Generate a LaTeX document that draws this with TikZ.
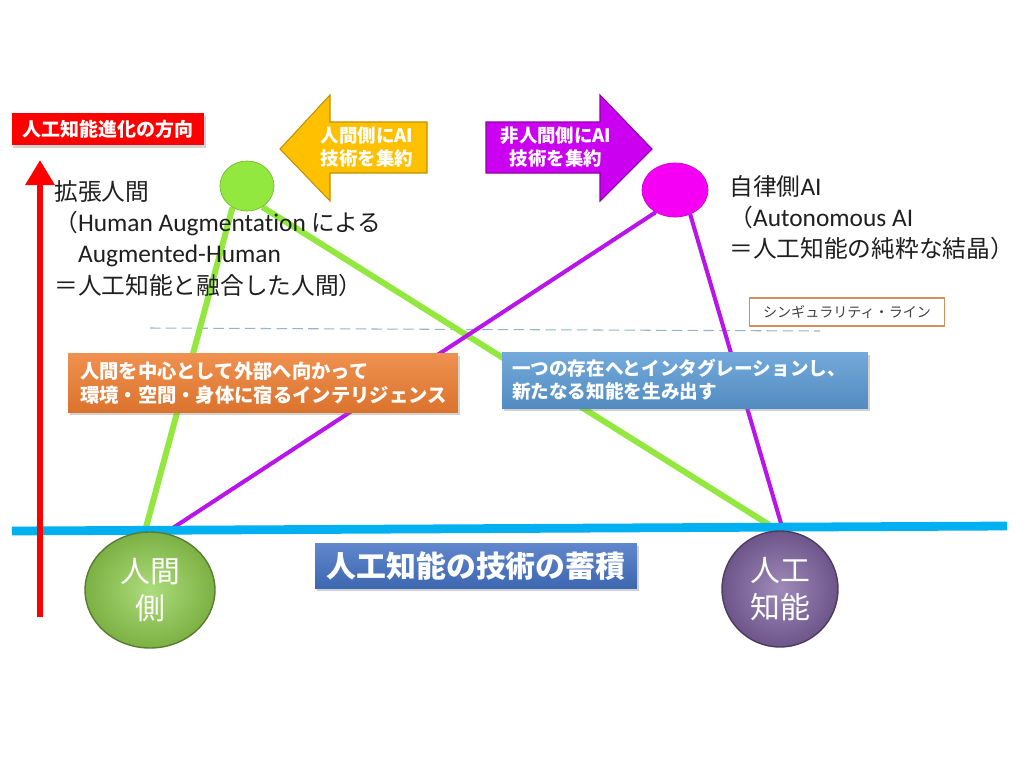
\documentclass[tikz,border=0pt]{standalone}
\usepackage{fontspec}
\setmainfont{Noto Sans CJK JP}
\newfontfamily\latin[Scale=1.07, Ligatures=NoCommon]{Carlito}
\usetikzlibrary{shapes,arrows.meta,shadows,calc,backgrounds}

\definecolor{evored}{RGB}{255,0,0}
\definecolor{limegreen}{RGB}{146,232,62}
\definecolor{magentaball}{RGB}{245,0,245}
\definecolor{violetline}{RGB}{185,20,235}
\definecolor{arrorange}{RGB}{255,192,0}
\definecolor{arrviolet}{RGB}{204,0,240}
\definecolor{boxorange}{RGB}{237,125,49}
\definecolor{boxblue}{RGB}{91,155,213}
\definecolor{linecyan}{RGB}{0,176,240}
\definecolor{accblue}{RGB}{68,114,196}
\definecolor{humangreen}{RGB}{146,208,80}
\definecolor{aipurple}{RGB}{128,100,162}
\definecolor{singbrown}{RGB}{205,145,95}
\definecolor{dashgray}{RGB}{150,180,205}

\begin{document}
\begin{tikzpicture}[x=0.02cm, y=-0.02cm,
        shade/.style={drop shadow={opacity=0.35, shadow xshift=1pt, shadow yshift=-1.5pt}},
        evobox/.style={rectangle, fill=evored, text=white, shade, minimum width=3.86cm, minimum height=0.64cm, font=\bfseries\fontsize{10.8}{13}\selectfont},
        ball/.style={ellipse, inner sep=0pt},
        desc/.style={align=left, inner sep=0pt, text={black!88}, font=\fontsize{13.5}{17.8}\selectfont},
        arrtext/.style={align=center, text=white, font=\bfseries\fontsize{10.5}{13}\selectfont},
        singbox/.style={rectangle, draw=singbrown, line width=0.8pt, fill=white, minimum width=3.9cm, minimum height=0.56cm, text={black!75}, font=\fontsize{8}{10}\selectfont},
        notebox/.style={rectangle, text=white, shade, align=left, font=\bfseries\fontsize{11}{13.6}\selectfont},
        sidenode/.style={ellipse, text=white, align=center, line width=0.8pt, font=\fontsize{17}{21}\selectfont},
        accbox/.style={rectangle, top color=accblue!85!white, bottom color=accblue!90!black, text=white, shade, minimum width=6.44cm, minimum height=0.9cm, font=\bfseries\fontsize{17}{20}\selectfont},
        gline/.style={draw=limegreen, line width=3.4pt},
        pline/.style={draw=violetline, line width=2.3pt},
        cyanline/.style={draw=linecyan, line width=5pt},
        singline/.style={draw=dashgray, line width=0.6pt, dash pattern=on 6pt off 3pt},
        evoline/.style={draw=evored, line width=3.8pt, -{Triangle[width=0.56cm, length=0.5cm]}}]

    \useasboundingbox (0,0) rectangle (1024,768);

    % top row
    \node [evobox] (evo) at (108,129) {人工知能進化の方向};
    \node [ball, fill=limegreen, draw=limegreen!80!black, minimum width=1.08cm, minimum height=1cm] (aug) at (247,186) {};
    \node [ball, fill=magentaball, draw=magentaball!85!black, minimum width=1.32cm, minimum height=1.08cm] (mag) at (675,190) {};

    \filldraw [fill=arrorange, draw=arrorange!75!black, line width=0.6pt] (280,149) -- (330,95) -- (330,122) -- (427,122) -- (427,173) -- (330,173) -- (330,201) -- cycle;
    \filldraw [fill=arrviolet, draw=arrviolet!70!black, line width=0.6pt] (652,149) -- (600,95) -- (600,122) -- (486,122) -- (486,173) -- (600,173) -- (600,201) -- cycle;
    \node [arrtext] (toleft) at (367,147) {人間側にAI\\技術を集約};
    \node [arrtext] (toright) at (556,147) {非人間側にAI\\技術を集約};

    \node [desc, anchor=north west] (augdesc) at (54,180) {拡張人間\\（{\latin Human Augmentation} による\\\hspace*{1em}{\latin Augmented-Human}\\＝人工知能と融合した人間）};
    \node [desc, anchor=north west] (aidesc) at (729,175) {自律側{\latin AI}\\（{\latin Autonomous AI}\\＝人工知能の純粋な結晶）};

    \node [singbox] (sing) at (847,312) {シンギュラリティ・ライン};

    % middle notes
    \node [notebox, top color=boxorange!85!white, bottom color=boxorange!92!black, minimum height=1.18cm, text width=7.32cm, inner xsep=0.24cm] (outward) at (263,383) {人間を中心として外部へ向かって\\環境・空間・身体に宿るインテリジェンス};
    \node [notebox, top color=boxblue!85!white, bottom color=boxblue!90!black, minimum height=1.12cm, text width=6.92cm, inner xsep=0.2cm, font=\bfseries\fontsize{10.6}{13}\selectfont] (merge) at (685,380) {一つの存在へとインタグレーションし、\\新たなる知能を生み出す};

    % bottom row
    \node [sidenode, inner color=humangreen!75!white, outer color=humangreen!85!black, draw=humangreen!60!black, minimum width=2.6cm, minimum height=2.32cm] (human) at (150,590) {人間\\側};
    \node [sidenode, inner color=aipurple!75!white, outer color=aipurple!85!black, draw=aipurple!60!black, minimum width=2.32cm, minimum height=2.32cm] (ai) at (780,589) {人工\\知能};
    \node [accbox] (accum) at (476,566) {人工知能の技術の蓄積};

    \coordinate (evobot) at (40,617);
    \coordinate (evotop) at (40,160);
    \coordinate (cyanl) at (12,531);
    \coordinate (cyanr) at (1007,526);
    \coordinate (singl) at (150,328);
    \coordinate (singr) at (820,331);

    \begin{pgfonlayer}{background}
        \fill [white] (0,0) rectangle (1024,768);
        \path [singline] (singl) -- (singr);
        \path [gline] (aug.236) -- (human.95);
        \path [gline] (aug.306) -- (ai.92);
        \path [pline] (mag.229) -- (human.75);
        \path [pline] (mag.302) -- (ai.87);
        \path [cyanline] (cyanl) -- (cyanr);
    \end{pgfonlayer}

    \path [evoline] (evobot) -- (evotop);
\end{tikzpicture}
\end{document}
